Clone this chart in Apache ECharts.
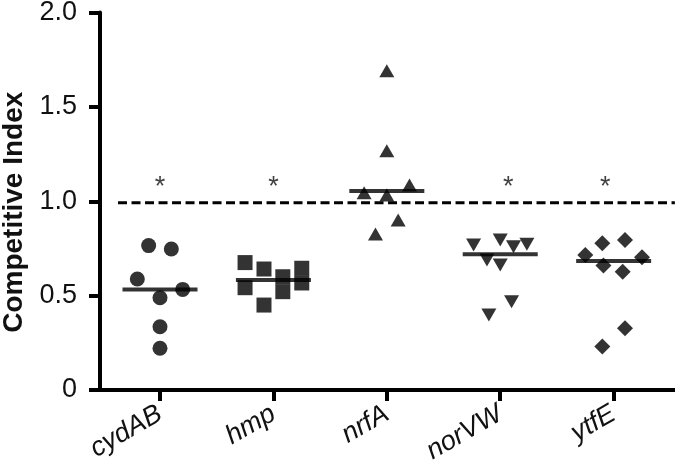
<!DOCTYPE html>
<html>
<head>
<meta charset="utf-8">
<script src="https://cdn.jsdelivr.net/npm/echarts@6/dist/echarts.min.js"></script>
<style>html,body{margin:0;padding:0;background:#fff}#c{width:675px;height:475px}</style>
</head>
<body>
<div id="c"></div>
<script>
// Categories (x axis)
const categories = ['cydAB', 'hmp', 'nrfA', 'norVW', 'ytfE'];
// Each point: [horizontal jitter within category, competitive index]
const cydAB = [[-0.1, 0.765], [0.1, 0.747], [-0.2, 0.588], [0.2, 0.533], [0, 0.489], [0, 0.335], [0, 0.221]];
const hmp = [[-0.25, 0.675], [-0.25, 0.542], [-0.083, 0.641], [-0.083, 0.450], [0.083, 0.600], [0.083, 0.521], [0.25, 0.645], [0.25, 0.567]];
const nrfA = [[0, 1.692], [0, 1.268], [-0.2, 1.045], [0, 1.033], [0.2, 1.086], [0.1, 0.901], [-0.1, 0.826]];
const norVW = [[-0.235, 0.768], [0, 0.795], [0.117, 0.759], [0.235, 0.772], [-0.117, 0.689], [0, 0.662], [0.1, 0.468], [-0.1, 0.397]];
const ytfE = [[-0.1, 0.777], [0.1, 0.795], [-0.25, 0.715], [0.25, 0.703], [-0.09, 0.659], [0.08, 0.627], [0.1, 0.327], [-0.1, 0.230]];
// Median bars
const medians = [0.533, 0.583, 1.054, 0.719, 0.683];
// Y tick labels
const yTickValues = [0, 0.5, 1.0, 1.5, 2.0];
const yTickLabels = ['0', '0.5', '1.0', '1.5', '2.0'];
// Reference (dashed) line
const refLineValue = 0.992;
const refLineSpan = [0.63, 5.54];
// Significance asterisks: [jitter, y]; null = none
const sigMarks = [[0, 1.07], [0, 1.07], null, [0.07, 1.07], [-0.075, 1.07]];

const groups = [cydAB, hmp, nrfA, norVW, ytfE];
const symbols = ['circle', 'rect', 'triangle', 'triangle', 'diamond'];
const rotations = [0, 0, 0, 180, 0];
const sizes = [15, 15, [15, 13], [15, 13], 16];

const FONT = 'Liberation Sans, Arial, Helvetica, sans-serif';
const catIdx = categories.map((_, i) => i + 1);

const series = [];
// Dashed reference line
series.push({
  type: 'line',
  data: refLineSpan.map(x => [x, refLineValue]),
  symbol: 'none',
  lineStyle: { color: '#000', width: 3, type: [9, 4.5] },
  silent: true,
  z: 1
});
groups.forEach((g, i) => {
  series.push({
    type: 'scatter',
    data: g.map(([o, v]) => [i + 1 + o, v]),
    symbol: symbols[i],
    symbolRotate: rotations[i],
    symbolSize: sizes[i],
    itemStyle: { color: '#000' },
    z: 3
  });
});
// Median bars
series.push({
  type: 'scatter',
  data: medians.map((m, i) => [i + 1, m]),
  symbol: 'rect',
  symbolSize: [75, 4],
  itemStyle: { color: '#000' },
  z: 4
});
// Asterisks
series.push({
  type: 'scatter',
  data: sigMarks.map((s, i) => s ? [i + 1 + s[0], s[1]] : null).filter(d => d),
  symbolSize: 1,
  itemStyle: { color: 'rgba(0,0,0,0)' },
  label: {
    show: true, position: 'inside', formatter: '*',
    fontSize: 27, color: '#111', fontFamily: FONT
  },
  z: 5
});

const chart = echarts.init(document.getElementById('c'), null, { renderer: 'canvas' });
chart.setOption({
  animation: false,
  backgroundColor: '#fff',
  grid: { left: 100, right: 0, top: 12.5, bottom: 85, containLabel: false, outerBoundsMode: 'none' },
  xAxis: {
    type: 'value',
    min: 0.471,
    max: 5.541,
    splitLine: { show: false },
    axisLine: { show: true, lineStyle: { color: '#000', width: 4 } },
    axisTick: { show: true, customValues: catIdx, length: 11, lineStyle: { color: '#000', width: 4 } },
    axisLabel: {
      show: true, customValues: catIdx,
      formatter: v => categories[Math.round(v) - 1] || '',
      rotate: 30, margin: 22,
      fontSize: 27, fontStyle: 'italic', color: '#111', fontFamily: FONT
    }
  },
  yAxis: {
    type: 'value',
    min: 0, max: 2, interval: 0.5,
    name: 'Competitive Index',
    nameLocation: 'middle',
    nameGap: 72,
    nameTextStyle: { fontSize: 28, fontWeight: 'bold', color: '#111', fontFamily: FONT, padding: [0, 22, 0, 0] },
    splitLine: { show: false },
    axisLine: { show: true, lineStyle: { color: '#000', width: 4 } },
    axisTick: { show: true, length: 11, lineStyle: { color: '#000', width: 4 } },
    axisLabel: {
      margin: 23, fontSize: 27, color: '#111', fontFamily: FONT,
      formatter: v => { const k = yTickValues.indexOf(v); return k >= 0 ? yTickLabels[k] : ''; }
    }
  },
  series: series
});
</script>
</body>
</html>
